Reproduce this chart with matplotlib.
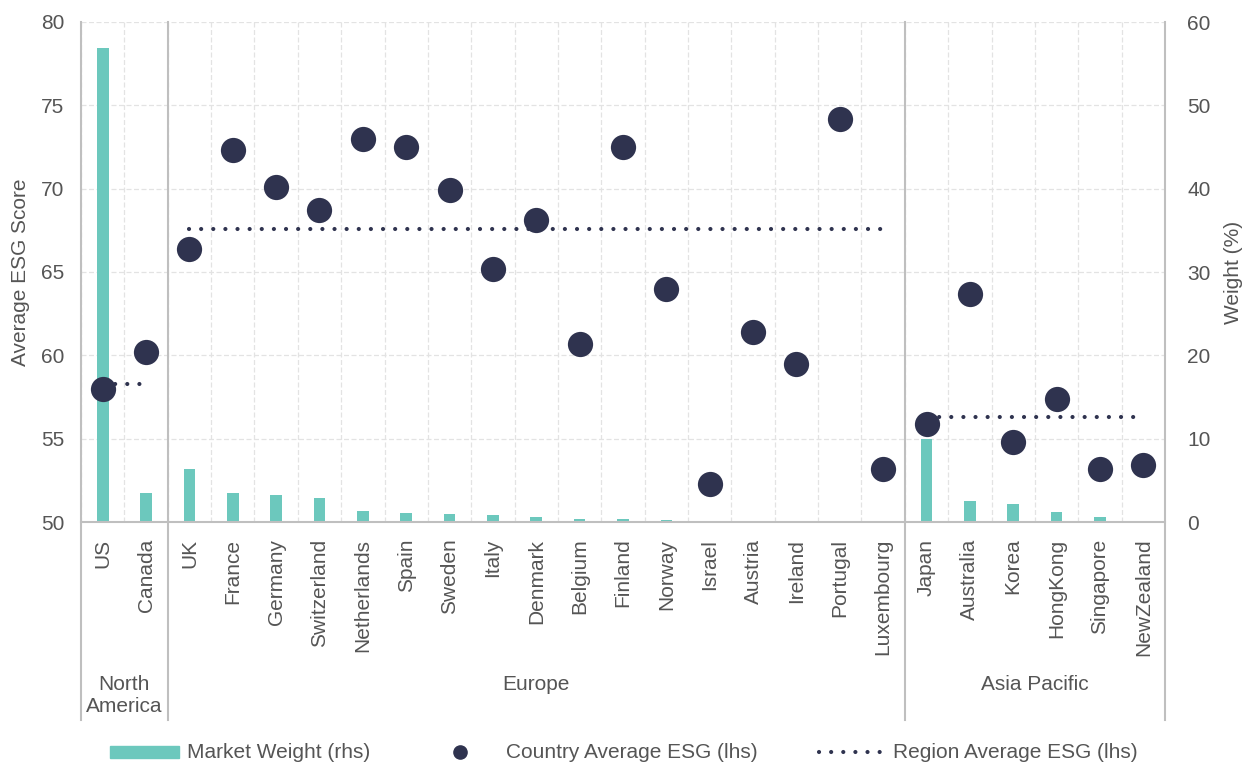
import matplotlib
matplotlib.use("Agg")
import matplotlib.pyplot as plt
from matplotlib.patches import Rectangle
from matplotlib.transforms import blended_transform_factory
import numpy as np

plt.rcParams['font.family'] = ['Liberation Sans', 'DejaVu Sans']

# ---- data ----
countries = ["US", "Canada", "UK", "France", "Germany", "Switzerland", "Netherlands",
             "Spain", "Sweden", "Italy", "Denmark", "Belgium", "Finland", "Norway",
             "Israel", "Austria", "Ireland", "Portugal", "Luxembourg", "Japan",
             "Australia", "Korea", "HongKong", "Singapore", "NewZealand"]
esg_score = [58.0, 60.2, 66.4, 72.3, 70.1, 68.7, 73.0, 72.5, 69.9, 65.2, 68.1, 60.7,
             72.5, 64.0, 52.3, 61.4, 59.5, 74.2, 53.2, 55.9, 63.7, 54.8, 57.4, 53.2, 53.4]
market_weight = [56.9, 3.5, 6.4, 3.5, 3.2, 2.9, 1.3, 1.1, 1.0, 0.9, 0.6, 0.4, 0.4, 0.2,
                 0.17, 0.1, 0.08, 0.06, 0.05, 10.0, 2.5, 2.2, 1.2, 0.64, 0.1]
regions = ["North\nAmerica", "Europe", "Asia Pacific"]
region_sizes = [2, 17, 6]
region_avg = [58.3, 67.6, 56.3]

TEAL = "#6CC8BD"
NAVY = "#2F334F"
TXT = "#555555"
GRID = "#E3E3E3"
AXL = "#BFBFBF"
FS = 15
DOTS = (0, (0.01, 2.9))

W, H = 1247, 767
fig = plt.figure(figsize=(W / 100, H / 100), dpi=100)
L, R, T, B = 81, 1165, 22, 522
ax = fig.add_axes([L / W, 1 - B / H, (R - L) / W, (B - T) / H])
ax2 = ax.twinx()
ax.set_zorder(ax2.get_zorder() + 1)
ax.patch.set_visible(False)

x = np.arange(len(countries))

# weights (right axis)
ax2.bar(x, market_weight, width=0.27, color=TEAL, zorder=3)
ax2.set_ylim(0, 60)
ax2.set_yticks(np.arange(0, 61, 10))
ax2.set_ylabel("Weight (%)", fontsize=FS, color=TXT, labelpad=10)

# gridlines on the back axis
for yv in np.arange(55, 81, 5):
    ax2.axhline((yv - 50) * 2, color=GRID, lw=0.9, ls=(0, (4, 2)), zorder=0)
for xv in np.arange(-0.5, len(countries), 1.0):
    ax2.axvline(xv, color=GRID, lw=0.9, ls=(0, (4, 2)), zorder=0)

# ESG scores (left axis)
ax.scatter(x, esg_score, s=330, color=NAVY, zorder=5, linewidths=0)
start = 0
for size, avg in zip(region_sizes, region_avg):
    xs = [start, start + size - 1]
    ax.plot(xs, [avg, avg], color=NAVY, lw=3.0, ls=DOTS,
            dash_capstyle='round', zorder=4)
    start += size

ax.set_ylim(50, 80)
ax.set_yticks(np.arange(50, 81, 5))
ax.set_xlim(-0.5, len(countries) - 0.5)
ax.set_ylabel("Average ESG Score", fontsize=FS, color=TXT, labelpad=8)
ax.set_xticks(x)
ax.set_xticklabels(countries, rotation=90, fontsize=FS, color=TXT)

for a in (ax, ax2):
    a.tick_params(axis='both', length=0, labelsize=FS, colors=TXT)
    for s in a.spines.values():
        s.set_visible(False)
ax.tick_params(axis='x', pad=12)
ax.tick_params(axis='y', pad=12)
ax2.tick_params(axis='y', pad=16)

# frame: bottom axis, outer verticals and region separators
trans = blended_transform_factory(ax.transData, ax.transAxes)
ax.plot([-0.5, len(countries) - 0.5], [0, 0], transform=trans, color=AXL,
        lw=1.5, clip_on=False, zorder=6)
y_low = -(720 - B) / (B - T)
bounds = [-0.5]
acc = -0.5
for size in region_sizes:
    acc += size
    bounds.append(acc)
for bx in bounds:
    ax.plot([bx, bx], [1.0, y_low], transform=trans, color=AXL, lw=1.5,
            clip_on=False, zorder=6)

# region names under the country labels
start = 0
for name, size in zip(regions, region_sizes):
    cx = start + (size - 1) / 2
    ax.text(cx, -(675 - B) / (B - T), name, transform=trans, ha='center',
            va='top', fontsize=FS, color=TXT, linespacing=1.2)
    start += size

# legend row
lg = fig.add_axes([0, 0, 1, 1])
lg.set_xlim(0, W)
lg.set_ylim(H, 0)
lg.axis('off')
ly = 752
lg.add_patch(Rectangle((110, ly - 6), 69, 12, color=TEAL))
lg.text(187, ly, "Market Weight (rhs)", fontsize=FS, color=TXT, va='center')
lg.plot([460], [ly], 'o', ms=9.5, color=NAVY)
lg.text(506, ly, "Country Average ESG (lhs)", fontsize=FS, color=TXT, va='center')
lg.plot([819, 886], [ly, ly], color=NAVY, lw=3.0, ls=DOTS,
        dash_capstyle='round')
lg.text(893, ly, "Region Average ESG (lhs)", fontsize=FS, color=TXT, va='center')

fig.savefig("out.png", dpi=100)
